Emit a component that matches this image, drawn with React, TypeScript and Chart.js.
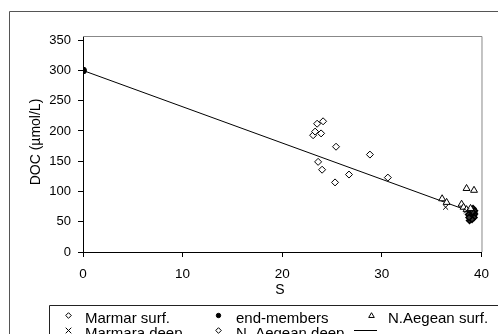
import React, { useEffect, useRef } from "react";
import { Chart, registerables } from "chart.js";

Chart.register(...registerables);

// Salinity (S) and DOC (µmol/L) values
const marmaraSurfS = [23.1, 23.3, 23.5, 24.1, 23.9, 25.4, 28.8, 23.6, 24.0, 26.7, 25.3, 30.6];
const marmaraSurfDOC = [193, 199, 212, 216, 196, 174, 161, 149, 136, 128, 115, 123];

const endMembersS = [0, 39.2];
const endMembersDOC = [300, 65];

const aegeanSurfS = [36.05, 36.5, 38.0, 38.2, 38.5, 39.25, 38.5, 38.9];
const aegeanSurfDOC = [88, 82, 79, 74, 105, 102, 70, 72];

const marmaraDeepS = [36.4, 38.5, 38.9, 39.1];
const marmaraDeepDOC = [74, 68, 64, 58];

const aegeanDeepS = [38.9, 38.8, 39.0, 39.1, 38.95, 39.2, 39.3, 39.0, 39.15, 38.85, 39.25, 39.05, 38.7, 39.3, 39.1, 38.75];
const aegeanDeepDOC = [55, 52, 58, 62, 65, 60, 63, 68, 72, 60, 57, 54, 62, 68, 66, 57];

const mixLineS = [0, 39.2];
const mixLineDOC = [300, 65];

const xTicks = [0, 10, 20, 30, 40];
const yTicks = [0, 50, 100, 150, 200, 250, 300, 350];

const legendLabels = ["Marmar surf.", "end-members", "N.Aegean surf.", "Marmara deep", "N. Aegean deep", ""];

const pts = (xs: number[], ys: number[]) => xs.map((x, i) => ({ x, y: ys[i] }));

const FONT = "'Liberation Sans', Arial, sans-serif";

function marker(ctx: CanvasRenderingContext2D, style: string, x: number, y: number, r: number) {
  ctx.beginPath();
  if (style === "diamond") {
    ctx.moveTo(x - r, y);
    ctx.lineTo(x, y - r);
    ctx.lineTo(x + r, y);
    ctx.lineTo(x, y + r);
    ctx.closePath();
    ctx.fillStyle = "#fff";
    ctx.fill();
    ctx.stroke();
  } else if (style === "dot") {
    ctx.arc(x, y, r, 0, Math.PI * 2);
    ctx.fillStyle = "#000";
    ctx.fill();
    ctx.stroke();
  } else if (style === "triangle") {
    ctx.moveTo(x, y - r);
    ctx.lineTo(x + r, y + r * 0.7);
    ctx.lineTo(x - r, y + r * 0.7);
    ctx.closePath();
    ctx.fillStyle = "#fff";
    ctx.fill();
    ctx.stroke();
  } else if (style === "cross") {
    ctx.moveTo(x - r, y - r);
    ctx.lineTo(x + r, y + r);
    ctx.moveTo(x + r, y - r);
    ctx.lineTo(x - r, y + r);
    ctx.stroke();
  }
}

const decorPlugin = {
  id: "decor",
  afterDraw(chart: any) {
    const ctx = chart.ctx as CanvasRenderingContext2D;
    const ca = chart.chartArea;
    ctx.save();
    // outer chart border
    ctx.strokeStyle = "#555";
    ctx.lineWidth = 1;
    ctx.beginPath();
    ctx.moveTo(9.5, 340);
    ctx.lineTo(9.5, 11.5);
    ctx.lineTo(505, 11.5);
    ctx.stroke();
    // plot frame (top & right)
    ctx.strokeStyle = "#888";
    ctx.beginPath();
    ctx.moveTo(ca.left, ca.top + 0.5);
    ctx.lineTo(ca.right + 0.5, ca.top + 0.5);
    ctx.lineTo(ca.right + 0.5, ca.bottom);
    ctx.stroke();
    // axis titles
    ctx.fillStyle = "#000";
    ctx.font = `14px ${FONT}`;
    ctx.textAlign = "center";
    ctx.textBaseline = "middle";
    ctx.fillText("S", 280, 290);
    ctx.save();
    ctx.translate(36, 142);
    ctx.rotate(-Math.PI / 2);
    ctx.fillText("DOC (\u00b5mol/L)", 0, 0);
    ctx.restore();
    // legend box
    ctx.strokeStyle = "#222";
    ctx.beginPath();
    ctx.moveTo(49.5, 340);
    ctx.lineTo(49.5, 305.5);
    ctx.lineTo(505, 305.5);
    ctx.stroke();
    // legend entries
    const cols = [
      { mx: 68.5, tx: 85 },
      { mx: 218.5, tx: 236 },
      { mx: 371.5, tx: 388 },
    ];
    const rows = [315.5, 330.5];
    const styles = ["diamond", "dot", "triangle", "cross", "diamond", "line"];
    ctx.font = `15px ${FONT}`;
    ctx.textAlign = "left";
    ctx.textBaseline = "alphabetic";
    legendLabels.forEach((label, i) => {
      const c = cols[i % 3];
      const y = rows[Math.floor(i / 3)];
      ctx.strokeStyle = "#000";
      ctx.lineWidth = 1;
      if (styles[i] === "line") {
        ctx.beginPath();
        ctx.moveTo(354, y);
        ctx.lineTo(377, y);
        ctx.stroke();
      } else {
        marker(ctx, styles[i], c.mx, y, styles[i] === "dot" ? 2.2 : 2.8);
      }
      if (label) {
        ctx.fillStyle = "#000";
        ctx.fillText(label, c.tx, y + 7);
      }
    });
    ctx.restore();
  },
};

export default function App() {
  const ref = useRef<HTMLCanvasElement | null>(null);
  useEffect(() => {
    if (!ref.current) return;
    const chart = new Chart(ref.current, {
      type: "scatter",
      data: {
        datasets: [
          {
            label: legendLabels[0],
            data: pts(marmaraSurfS, marmaraSurfDOC),
            pointStyle: "rectRot",
            pointRadius: 3.5,
            borderColor: "#000",
            backgroundColor: "#fff",
            borderWidth: 1,
          },
          {
            label: legendLabels[3],
            data: pts(marmaraDeepS, marmaraDeepDOC),
            pointStyle: "crossRot",
            pointRadius: 3.5,
            borderColor: "#000",
            backgroundColor: "#fff",
            borderWidth: 1,
          },
          {
            label: legendLabels[2],
            data: pts(aegeanSurfS, aegeanSurfDOC),
            pointStyle: "triangle",
            pointRadius: 4,
            borderColor: "#000",
            backgroundColor: "#fff",
            borderWidth: 1,
          },
          {
            label: legendLabels[4],
            data: pts(aegeanDeepS, aegeanDeepDOC),
            pointStyle: "rectRot",
            pointRadius: 3,
            borderColor: "#000",
            backgroundColor: "#333",
            borderWidth: 1.5,
          },
          {
            label: legendLabels[1],
            data: pts(endMembersS, endMembersDOC),
            pointStyle: "circle",
            pointRadius: 3.5,
            borderColor: "#000",
            backgroundColor: "#000",
            borderWidth: 1,
          },
          {
            label: "mixing line",
            data: pts(mixLineS, mixLineDOC),
            showLine: true,
            pointRadius: 0,
            borderColor: "#000",
            borderWidth: 1,
            backgroundColor: "#000",
          } as any,
        ],
      },
      options: {
        responsive: false,
        animation: false,
        devicePixelRatio: 1,
        layout: { padding: { top: 36, right: 16, left: 0, bottom: 0 } },
        plugins: { legend: { display: false }, tooltip: { enabled: false } },
        scales: {
          x: {
            type: "linear",
            min: 0,
            max: 40,
            afterFit: (s: any) => {
              s.height = 82;
            },
            afterBuildTicks: (s: any) => {
              s.ticks = xTicks.map((v) => ({ value: v }));
            },
            grid: { drawOnChartArea: false, tickLength: 5, color: "#000" },
            border: { display: true, color: "#000" },
            ticks: { color: "#000", font: { family: FONT, size: 13.5 }, padding: 9, maxRotation: 0 },
          },
          y: {
            type: "linear",
            min: 0,
            max: 357,
            afterFit: (s: any) => {
              s.width = 83;
            },
            afterBuildTicks: (s: any) => {
              s.ticks = yTicks.map((v) => ({ value: v }));
            },
            grid: { drawOnChartArea: false, tickLength: 5, color: "#000" },
            border: { display: true, color: "#000" },
            ticks: { color: "#000", font: { family: FONT, size: 13 }, padding: 7 },
          },
        },
      },
      plugins: [decorPlugin],
    });
    return () => chart.destroy();
  }, []);
  return (
    <canvas
      ref={ref}
      width={498}
      height={334}
      style={{ position: "fixed", left: 0, top: 0, width: 498, height: 334, background: "#fff" }}
    />
  );
}
